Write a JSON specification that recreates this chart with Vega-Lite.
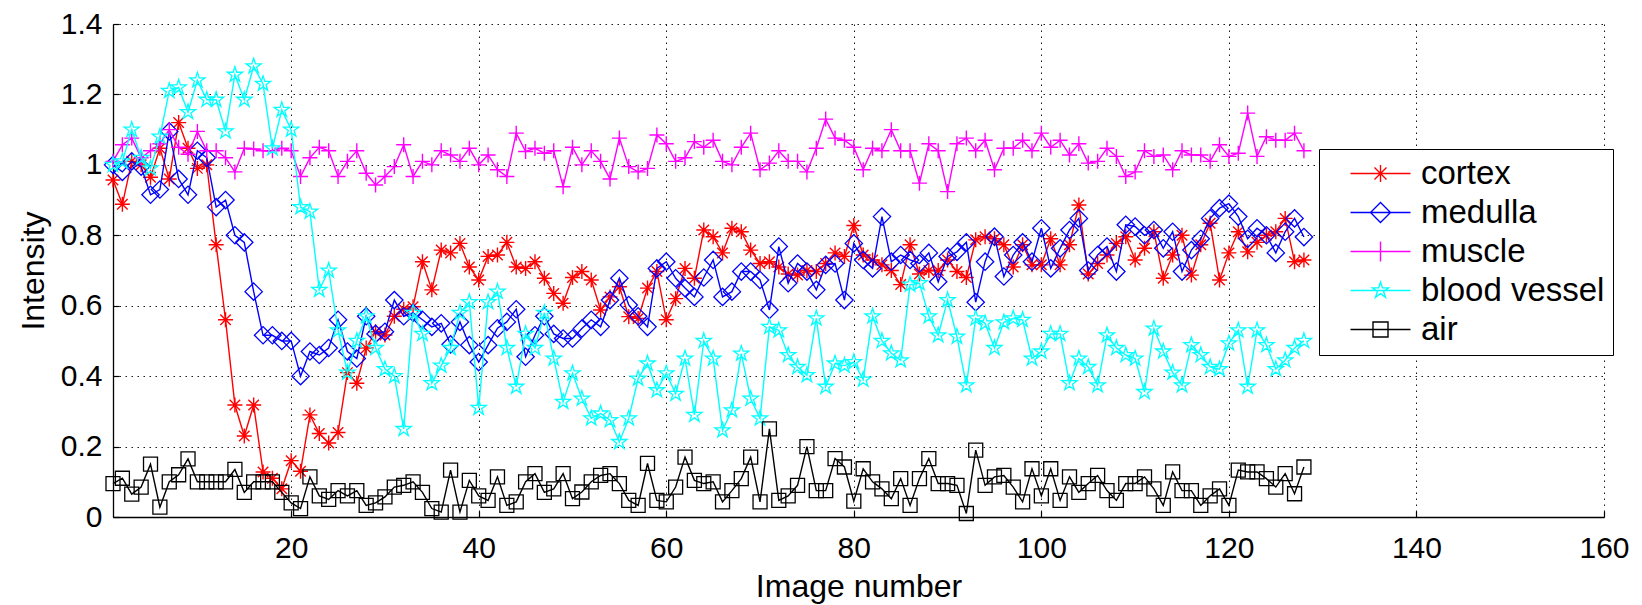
{
"$schema": "https://vega.github.io/schema/vega-lite/v6.json",
"width": 1491, "height": 493,
"autosize": {"type": "none"},
"padding": {"left": 113, "top": 24, "right": 38, "bottom": 88},
"background": "white",
"config": {"view": {"stroke": null}, "font": "Liberation Sans"},
"data": {"values": [
{"n":1,"s":"cortex","v":0.957},{"n":2,"s":"cortex","v":0.888},{"n":3,"s":"cortex","v":1.01},{"n":4,"s":"cortex","v":1.0},{"n":5,"s":"cortex","v":0.965},{"n":6,"s":"cortex","v":1.047},{"n":7,"s":"cortex","v":0.96},{"n":8,"s":"cortex","v":1.12},{"n":9,"s":"cortex","v":1.047},{"n":10,"s":"cortex","v":0.99},
{"n":11,"s":"cortex","v":1.0},{"n":12,"s":"cortex","v":0.773},{"n":13,"s":"cortex","v":0.56},{"n":14,"s":"cortex","v":0.318},{"n":15,"s":"cortex","v":0.23},{"n":16,"s":"cortex","v":0.318},{"n":17,"s":"cortex","v":0.128},{"n":18,"s":"cortex","v":0.11},{"n":19,"s":"cortex","v":0.08},{"n":20,"s":"cortex","v":0.16},
{"n":21,"s":"cortex","v":0.13},{"n":22,"s":"cortex","v":0.29},{"n":23,"s":"cortex","v":0.237},{"n":24,"s":"cortex","v":0.21},{"n":25,"s":"cortex","v":0.24},{"n":26,"s":"cortex","v":0.41},{"n":27,"s":"cortex","v":0.38},{"n":28,"s":"cortex","v":0.48},{"n":29,"s":"cortex","v":0.526},{"n":30,"s":"cortex","v":0.517},
{"n":31,"s":"cortex","v":0.57},{"n":32,"s":"cortex","v":0.59},{"n":33,"s":"cortex","v":0.597},{"n":34,"s":"cortex","v":0.725},{"n":35,"s":"cortex","v":0.645},{"n":36,"s":"cortex","v":0.758},{"n":37,"s":"cortex","v":0.75},{"n":38,"s":"cortex","v":0.777},{"n":39,"s":"cortex","v":0.71},{"n":40,"s":"cortex","v":0.673},
{"n":41,"s":"cortex","v":0.74},{"n":42,"s":"cortex","v":0.744},{"n":43,"s":"cortex","v":0.78},{"n":44,"s":"cortex","v":0.71},{"n":45,"s":"cortex","v":0.706},{"n":46,"s":"cortex","v":0.725},{"n":47,"s":"cortex","v":0.678},{"n":48,"s":"cortex","v":0.635},{"n":49,"s":"cortex","v":0.607},{"n":50,"s":"cortex","v":0.68},
{"n":51,"s":"cortex","v":0.697},{"n":52,"s":"cortex","v":0.673},{"n":53,"s":"cortex","v":0.588},{"n":54,"s":"cortex","v":0.625},{"n":55,"s":"cortex","v":0.654},{"n":56,"s":"cortex","v":0.569},{"n":57,"s":"cortex","v":0.564},{"n":58,"s":"cortex","v":0.65},{"n":59,"s":"cortex","v":0.697},{"n":60,"s":"cortex","v":0.56},
{"n":61,"s":"cortex","v":0.62},{"n":62,"s":"cortex","v":0.706},{"n":63,"s":"cortex","v":0.678},{"n":64,"s":"cortex","v":0.815},{"n":65,"s":"cortex","v":0.796},{"n":66,"s":"cortex","v":0.75},{"n":67,"s":"cortex","v":0.82},{"n":68,"s":"cortex","v":0.81},{"n":69,"s":"cortex","v":0.758},{"n":70,"s":"cortex","v":0.72},
{"n":71,"s":"cortex","v":0.725},{"n":72,"s":"cortex","v":0.71},{"n":73,"s":"cortex","v":0.69},{"n":74,"s":"cortex","v":0.687},{"n":75,"s":"cortex","v":0.70},{"n":76,"s":"cortex","v":0.697},{"n":77,"s":"cortex","v":0.72},{"n":78,"s":"cortex","v":0.75},{"n":79,"s":"cortex","v":0.74},{"n":80,"s":"cortex","v":0.828},
{"n":81,"s":"cortex","v":0.744},{"n":82,"s":"cortex","v":0.73},{"n":83,"s":"cortex","v":0.716},{"n":84,"s":"cortex","v":0.70},{"n":85,"s":"cortex","v":0.66},{"n":86,"s":"cortex","v":0.773},{"n":87,"s":"cortex","v":0.69},{"n":88,"s":"cortex","v":0.70},{"n":89,"s":"cortex","v":0.70},{"n":90,"s":"cortex","v":0.73},
{"n":91,"s":"cortex","v":0.697},{"n":92,"s":"cortex","v":0.68},{"n":93,"s":"cortex","v":0.787},{"n":94,"s":"cortex","v":0.796},{"n":95,"s":"cortex","v":0.79},{"n":96,"s":"cortex","v":0.773},{"n":97,"s":"cortex","v":0.71},{"n":98,"s":"cortex","v":0.773},{"n":99,"s":"cortex","v":0.716},{"n":100,"s":"cortex","v":0.716},
{"n":101,"s":"cortex","v":0.79},{"n":102,"s":"cortex","v":0.716},{"n":103,"s":"cortex","v":0.773},{"n":104,"s":"cortex","v":0.886},{"n":105,"s":"cortex","v":0.69},{"n":106,"s":"cortex","v":0.72},{"n":107,"s":"cortex","v":0.744},{"n":108,"s":"cortex","v":0.777},{"n":109,"s":"cortex","v":0.796},{"n":110,"s":"cortex","v":0.73},
{"n":111,"s":"cortex","v":0.763},{"n":112,"s":"cortex","v":0.81},{"n":113,"s":"cortex","v":0.678},{"n":114,"s":"cortex","v":0.744},{"n":115,"s":"cortex","v":0.80},{"n":116,"s":"cortex","v":0.687},{"n":117,"s":"cortex","v":0.773},{"n":118,"s":"cortex","v":0.834},{"n":119,"s":"cortex","v":0.673},{"n":120,"s":"cortex","v":0.75},
{"n":121,"s":"cortex","v":0.81},{"n":122,"s":"cortex","v":0.753},{"n":123,"s":"cortex","v":0.78},{"n":124,"s":"cortex","v":0.80},{"n":125,"s":"cortex","v":0.81},{"n":126,"s":"cortex","v":0.848},{"n":127,"s":"cortex","v":0.725},{"n":128,"s":"cortex","v":0.73},

{"n":1,"s":"medulla","v":1.0},{"n":2,"s":"medulla","v":0.98},{"n":3,"s":"medulla","v":1.01},{"n":4,"s":"medulla","v":0.995},{"n":5,"s":"medulla","v":0.915},{"n":6,"s":"medulla","v":0.93},{"n":7,"s":"medulla","v":1.095},{"n":8,"s":"medulla","v":0.96},{"n":9,"s":"medulla","v":0.915},{"n":10,"s":"medulla","v":1.04},
{"n":11,"s":"medulla","v":1.02},{"n":12,"s":"medulla","v":0.88},{"n":13,"s":"medulla","v":0.9},{"n":14,"s":"medulla","v":0.80},{"n":15,"s":"medulla","v":0.78},{"n":16,"s":"medulla","v":0.64},{"n":17,"s":"medulla","v":0.516},{"n":18,"s":"medulla","v":0.516},{"n":19,"s":"medulla","v":0.50},{"n":20,"s":"medulla","v":0.50},
{"n":21,"s":"medulla","v":0.40},{"n":22,"s":"medulla","v":0.47},{"n":23,"s":"medulla","v":0.46},{"n":24,"s":"medulla","v":0.48},{"n":25,"s":"medulla","v":0.56},{"n":26,"s":"medulla","v":0.47},{"n":27,"s":"medulla","v":0.45},{"n":28,"s":"medulla","v":0.57},{"n":29,"s":"medulla","v":0.52},{"n":30,"s":"medulla","v":0.526},
{"n":31,"s":"medulla","v":0.616},{"n":32,"s":"medulla","v":0.57},{"n":33,"s":"medulla","v":0.58},{"n":34,"s":"medulla","v":0.56},{"n":35,"s":"medulla","v":0.54},{"n":36,"s":"medulla","v":0.55},{"n":37,"s":"medulla","v":0.49},{"n":38,"s":"medulla","v":0.554},{"n":39,"s":"medulla","v":0.488},{"n":40,"s":"medulla","v":0.44},
{"n":41,"s":"medulla","v":0.488},{"n":42,"s":"medulla","v":0.536},{"n":43,"s":"medulla","v":0.554},{"n":44,"s":"medulla","v":0.59},{"n":45,"s":"medulla","v":0.455},{"n":46,"s":"medulla","v":0.516},{"n":47,"s":"medulla","v":0.57},{"n":48,"s":"medulla","v":0.52},{"n":49,"s":"medulla","v":0.507},{"n":50,"s":"medulla","v":0.507},
{"n":51,"s":"medulla","v":0.535},{"n":52,"s":"medulla","v":0.56},{"n":53,"s":"medulla","v":0.54},{"n":54,"s":"medulla","v":0.616},{"n":55,"s":"medulla","v":0.678},{"n":56,"s":"medulla","v":0.602},{"n":57,"s":"medulla","v":0.57},{"n":58,"s":"medulla","v":0.54},{"n":59,"s":"medulla","v":0.706},{"n":60,"s":"medulla","v":0.725},
{"n":61,"s":"medulla","v":0.678},{"n":62,"s":"medulla","v":0.65},{"n":63,"s":"medulla","v":0.625},{"n":64,"s":"medulla","v":0.68},{"n":65,"s":"medulla","v":0.73},{"n":66,"s":"medulla","v":0.625},{"n":67,"s":"medulla","v":0.64},{"n":68,"s":"medulla","v":0.697},{"n":69,"s":"medulla","v":0.697},{"n":70,"s":"medulla","v":0.673},
{"n":71,"s":"medulla","v":0.588},{"n":72,"s":"medulla","v":0.768},{"n":73,"s":"medulla","v":0.664},{"n":74,"s":"medulla","v":0.72},{"n":75,"s":"medulla","v":0.697},{"n":76,"s":"medulla","v":0.645},{"n":77,"s":"medulla","v":0.716},{"n":78,"s":"medulla","v":0.72},{"n":79,"s":"medulla","v":0.616},{"n":80,"s":"medulla","v":0.777},
{"n":81,"s":"medulla","v":0.73},{"n":82,"s":"medulla","v":0.706},{"n":83,"s":"medulla","v":0.853},{"n":84,"s":"medulla","v":0.725},{"n":85,"s":"medulla","v":0.744},{"n":86,"s":"medulla","v":0.73},{"n":87,"s":"medulla","v":0.72},{"n":88,"s":"medulla","v":0.75},{"n":89,"s":"medulla","v":0.668},{"n":90,"s":"medulla","v":0.74},
{"n":91,"s":"medulla","v":0.753},{"n":92,"s":"medulla","v":0.78},{"n":93,"s":"medulla","v":0.61},{"n":94,"s":"medulla","v":0.725},{"n":95,"s":"medulla","v":0.796},{"n":96,"s":"medulla","v":0.683},{"n":97,"s":"medulla","v":0.744},{"n":98,"s":"medulla","v":0.78},{"n":99,"s":"medulla","v":0.725},{"n":100,"s":"medulla","v":0.82},
{"n":101,"s":"medulla","v":0.706},{"n":102,"s":"medulla","v":0.763},{"n":103,"s":"medulla","v":0.815},{"n":104,"s":"medulla","v":0.848},{"n":105,"s":"medulla","v":0.70},{"n":106,"s":"medulla","v":0.744},{"n":107,"s":"medulla","v":0.768},{"n":108,"s":"medulla","v":0.697},{"n":109,"s":"medulla","v":0.83},{"n":110,"s":"medulla","v":0.825},
{"n":111,"s":"medulla","v":0.80},{"n":112,"s":"medulla","v":0.815},{"n":113,"s":"medulla","v":0.763},{"n":114,"s":"medulla","v":0.81},{"n":115,"s":"medulla","v":0.697},{"n":116,"s":"medulla","v":0.758},{"n":117,"s":"medulla","v":0.79},{"n":118,"s":"medulla","v":0.848},{"n":119,"s":"medulla","v":0.877},{"n":120,"s":"medulla","v":0.89},
{"n":121,"s":"medulla","v":0.853},{"n":122,"s":"medulla","v":0.79},{"n":123,"s":"medulla","v":0.82},{"n":124,"s":"medulla","v":0.80},{"n":125,"s":"medulla","v":0.75},{"n":126,"s":"medulla","v":0.81},{"n":127,"s":"medulla","v":0.848},{"n":128,"s":"medulla","v":0.795},

{"n":1,"s":"muscle","v":1.01},{"n":2,"s":"muscle","v":1.057},{"n":3,"s":"muscle","v":1.076},{"n":4,"s":"muscle","v":1.02},{"n":5,"s":"muscle","v":1.04},{"n":6,"s":"muscle","v":1.06},{"n":7,"s":"muscle","v":1.10},{"n":8,"s":"muscle","v":1.05},{"n":9,"s":"muscle","v":1.03},{"n":10,"s":"muscle","v":1.095},
{"n":11,"s":"muscle","v":1.04},{"n":12,"s":"muscle","v":1.04},{"n":13,"s":"muscle","v":1.02},{"n":14,"s":"muscle","v":0.98},{"n":15,"s":"muscle","v":1.047},{"n":16,"s":"muscle","v":1.045},{"n":17,"s":"muscle","v":1.04},{"n":18,"s":"muscle","v":1.04},{"n":19,"s":"muscle","v":1.047},{"n":20,"s":"muscle","v":1.04},
{"n":21,"s":"muscle","v":0.967},{"n":22,"s":"muscle","v":1.02},{"n":23,"s":"muscle","v":1.05},{"n":24,"s":"muscle","v":1.04},{"n":25,"s":"muscle","v":0.967},{"n":26,"s":"muscle","v":1.01},{"n":27,"s":"muscle","v":1.04},{"n":28,"s":"muscle","v":0.976},{"n":29,"s":"muscle","v":0.943},{"n":30,"s":"muscle","v":0.967},
{"n":31,"s":"muscle","v":0.995},{"n":32,"s":"muscle","v":1.057},{"n":33,"s":"muscle","v":0.967},{"n":34,"s":"muscle","v":1.01},{"n":35,"s":"muscle","v":1.0},{"n":36,"s":"muscle","v":1.04},{"n":37,"s":"muscle","v":1.028},{"n":38,"s":"muscle","v":1.01},{"n":39,"s":"muscle","v":1.047},{"n":40,"s":"muscle","v":1.0},
{"n":41,"s":"muscle","v":1.028},{"n":42,"s":"muscle","v":0.986},{"n":43,"s":"muscle","v":0.967},{"n":44,"s":"muscle","v":1.09},{"n":45,"s":"muscle","v":1.038},{"n":46,"s":"muscle","v":1.047},{"n":47,"s":"muscle","v":1.033},{"n":48,"s":"muscle","v":1.04},{"n":49,"s":"muscle","v":0.938},{"n":50,"s":"muscle","v":1.05},
{"n":51,"s":"muscle","v":1.0},{"n":52,"s":"muscle","v":1.04},{"n":53,"s":"muscle","v":1.01},{"n":54,"s":"muscle","v":0.96},{"n":55,"s":"muscle","v":1.076},{"n":56,"s":"muscle","v":0.995},{"n":57,"s":"muscle","v":0.98},{"n":58,"s":"muscle","v":0.99},{"n":59,"s":"muscle","v":1.085},{"n":60,"s":"muscle","v":1.06},
{"n":61,"s":"muscle","v":1.01},{"n":62,"s":"muscle","v":1.02},{"n":63,"s":"muscle","v":1.066},{"n":64,"s":"muscle","v":1.05},{"n":65,"s":"muscle","v":1.07},{"n":66,"s":"muscle","v":1.01},{"n":67,"s":"muscle","v":1.0},{"n":68,"s":"muscle","v":1.05},{"n":69,"s":"muscle","v":1.09},{"n":70,"s":"muscle","v":0.986},
{"n":71,"s":"muscle","v":1.005},{"n":72,"s":"muscle","v":1.04},{"n":73,"s":"muscle","v":1.01},{"n":74,"s":"muscle","v":1.01},{"n":75,"s":"muscle","v":0.98},{"n":76,"s":"muscle","v":1.047},{"n":77,"s":"muscle","v":1.13},{"n":78,"s":"muscle","v":1.076},{"n":79,"s":"muscle","v":1.07},{"n":80,"s":"muscle","v":1.05},
{"n":81,"s":"muscle","v":0.986},{"n":82,"s":"muscle","v":1.047},{"n":83,"s":"muscle","v":1.04},{"n":84,"s":"muscle","v":1.10},{"n":85,"s":"muscle","v":1.04},{"n":86,"s":"muscle","v":1.04},{"n":87,"s":"muscle","v":0.948},{"n":88,"s":"muscle","v":1.06},{"n":89,"s":"muscle","v":1.04},{"n":90,"s":"muscle","v":0.924},
{"n":91,"s":"muscle","v":1.06},{"n":92,"s":"muscle","v":1.076},{"n":93,"s":"muscle","v":1.04},{"n":94,"s":"muscle","v":1.07},{"n":95,"s":"muscle","v":0.986},{"n":96,"s":"muscle","v":1.047},{"n":97,"s":"muscle","v":1.047},{"n":98,"s":"muscle","v":1.07},{"n":99,"s":"muscle","v":1.04},{"n":100,"s":"muscle","v":1.09},
{"n":101,"s":"muscle","v":1.05},{"n":102,"s":"muscle","v":1.07},{"n":103,"s":"muscle","v":1.028},{"n":104,"s":"muscle","v":1.06},{"n":105,"s":"muscle","v":1.005},{"n":106,"s":"muscle","v":1.01},{"n":107,"s":"muscle","v":1.047},{"n":108,"s":"muscle","v":1.024},{"n":109,"s":"muscle","v":0.967},{"n":110,"s":"muscle","v":0.98},
{"n":111,"s":"muscle","v":1.04},{"n":112,"s":"muscle","v":1.024},{"n":113,"s":"muscle","v":1.028},{"n":114,"s":"muscle","v":0.986},{"n":115,"s":"muscle","v":1.04},{"n":116,"s":"muscle","v":1.028},{"n":117,"s":"muscle","v":1.028},{"n":118,"s":"muscle","v":1.01},{"n":119,"s":"muscle","v":1.057},{"n":120,"s":"muscle","v":1.024},
{"n":121,"s":"muscle","v":1.033},{"n":122,"s":"muscle","v":1.147},{"n":123,"s":"muscle","v":1.024},{"n":124,"s":"muscle","v":1.08},{"n":125,"s":"muscle","v":1.07},{"n":126,"s":"muscle","v":1.07},{"n":127,"s":"muscle","v":1.09},{"n":128,"s":"muscle","v":1.04},

{"n":1,"s":"blood vessel","v":1.0},{"n":2,"s":"blood vessel","v":1.01},{"n":3,"s":"blood vessel","v":1.10},{"n":4,"s":"blood vessel","v":1.02},{"n":5,"s":"blood vessel","v":0.99},{"n":6,"s":"blood vessel","v":1.08},{"n":7,"s":"blood vessel","v":1.21},{"n":8,"s":"blood vessel","v":1.22},{"n":9,"s":"blood vessel","v":1.15},{"n":10,"s":"blood vessel","v":1.24},
{"n":11,"s":"blood vessel","v":1.185},{"n":12,"s":"blood vessel","v":1.185},{"n":13,"s":"blood vessel","v":1.095},{"n":14,"s":"blood vessel","v":1.256},{"n":15,"s":"blood vessel","v":1.185},{"n":16,"s":"blood vessel","v":1.28},{"n":17,"s":"blood vessel","v":1.23},{"n":18,"s":"blood vessel","v":1.047},{"n":19,"s":"blood vessel","v":1.156},{"n":20,"s":"blood vessel","v":1.10},
{"n":21,"s":"blood vessel","v":0.88},{"n":22,"s":"blood vessel","v":0.867},{"n":23,"s":"blood vessel","v":0.645},{"n":24,"s":"blood vessel","v":0.70},{"n":25,"s":"blood vessel","v":0.53},{"n":26,"s":"blood vessel","v":0.41},{"n":27,"s":"blood vessel","v":0.50},{"n":28,"s":"blood vessel","v":0.57},{"n":29,"s":"blood vessel","v":0.48},{"n":30,"s":"blood vessel","v":0.42},
{"n":31,"s":"blood vessel","v":0.40},{"n":32,"s":"blood vessel","v":0.25},{"n":33,"s":"blood vessel","v":0.58},{"n":34,"s":"blood vessel","v":0.52},{"n":35,"s":"blood vessel","v":0.38},{"n":36,"s":"blood vessel","v":0.43},{"n":37,"s":"blood vessel","v":0.48},{"n":38,"s":"blood vessel","v":0.58},{"n":39,"s":"blood vessel","v":0.61},{"n":40,"s":"blood vessel","v":0.31},
{"n":41,"s":"blood vessel","v":0.61},{"n":42,"s":"blood vessel","v":0.64},{"n":43,"s":"blood vessel","v":0.48},{"n":44,"s":"blood vessel","v":0.37},{"n":45,"s":"blood vessel","v":0.52},{"n":46,"s":"blood vessel","v":0.48},{"n":47,"s":"blood vessel","v":0.58},{"n":48,"s":"blood vessel","v":0.45},{"n":49,"s":"blood vessel","v":0.327},{"n":50,"s":"blood vessel","v":0.408},
{"n":51,"s":"blood vessel","v":0.336},{"n":52,"s":"blood vessel","v":0.28},{"n":53,"s":"blood vessel","v":0.294},{"n":54,"s":"blood vessel","v":0.275},{"n":55,"s":"blood vessel","v":0.213},{"n":56,"s":"blood vessel","v":0.28},{"n":57,"s":"blood vessel","v":0.393},{"n":58,"s":"blood vessel","v":0.436},{"n":59,"s":"blood vessel","v":0.36},{"n":60,"s":"blood vessel","v":0.408},
{"n":61,"s":"blood vessel","v":0.35},{"n":62,"s":"blood vessel","v":0.45},{"n":63,"s":"blood vessel","v":0.29},{"n":64,"s":"blood vessel","v":0.50},{"n":65,"s":"blood vessel","v":0.45},{"n":66,"s":"blood vessel","v":0.246},{"n":67,"s":"blood vessel","v":0.303},{"n":68,"s":"blood vessel","v":0.464},{"n":69,"s":"blood vessel","v":0.336},{"n":70,"s":"blood vessel","v":0.28},
{"n":71,"s":"blood vessel","v":0.54},{"n":72,"s":"blood vessel","v":0.53},{"n":73,"s":"blood vessel","v":0.46},{"n":74,"s":"blood vessel","v":0.426},{"n":75,"s":"blood vessel","v":0.403},{"n":76,"s":"blood vessel","v":0.564},{"n":77,"s":"blood vessel","v":0.37},{"n":78,"s":"blood vessel","v":0.436},{"n":79,"s":"blood vessel","v":0.43},{"n":80,"s":"blood vessel","v":0.44},
{"n":81,"s":"blood vessel","v":0.39},{"n":82,"s":"blood vessel","v":0.57},{"n":83,"s":"blood vessel","v":0.50},{"n":84,"s":"blood vessel","v":0.465},{"n":85,"s":"blood vessel","v":0.445},{"n":86,"s":"blood vessel","v":0.66},{"n":87,"s":"blood vessel","v":0.664},{"n":88,"s":"blood vessel","v":0.57},{"n":89,"s":"blood vessel","v":0.516},{"n":90,"s":"blood vessel","v":0.616},
{"n":91,"s":"blood vessel","v":0.512},{"n":92,"s":"blood vessel","v":0.374},{"n":93,"s":"blood vessel","v":0.564},{"n":94,"s":"blood vessel","v":0.55},{"n":95,"s":"blood vessel","v":0.48},{"n":96,"s":"blood vessel","v":0.553},{"n":97,"s":"blood vessel","v":0.564},{"n":98,"s":"blood vessel","v":0.56},{"n":99,"s":"blood vessel","v":0.45},{"n":100,"s":"blood vessel","v":0.47},
{"n":101,"s":"blood vessel","v":0.52},{"n":102,"s":"blood vessel","v":0.52},{"n":103,"s":"blood vessel","v":0.38},{"n":104,"s":"blood vessel","v":0.45},{"n":105,"s":"blood vessel","v":0.426},{"n":106,"s":"blood vessel","v":0.374},{"n":107,"s":"blood vessel","v":0.516},{"n":108,"s":"blood vessel","v":0.48},{"n":109,"s":"blood vessel","v":0.46},{"n":110,"s":"blood vessel","v":0.45},
{"n":111,"s":"blood vessel","v":0.355},{"n":112,"s":"blood vessel","v":0.535},{"n":113,"s":"blood vessel","v":0.47},{"n":114,"s":"blood vessel","v":0.41},{"n":115,"s":"blood vessel","v":0.374},{"n":116,"s":"blood vessel","v":0.488},{"n":117,"s":"blood vessel","v":0.46},{"n":118,"s":"blood vessel","v":0.426},{"n":119,"s":"blood vessel","v":0.42},{"n":120,"s":"blood vessel","v":0.493},
{"n":121,"s":"blood vessel","v":0.53},{"n":122,"s":"blood vessel","v":0.37},{"n":123,"s":"blood vessel","v":0.53},{"n":124,"s":"blood vessel","v":0.488},{"n":125,"s":"blood vessel","v":0.42},{"n":126,"s":"blood vessel","v":0.445},{"n":127,"s":"blood vessel","v":0.48},{"n":128,"s":"blood vessel","v":0.50},

{"n":1,"s":"air","v":0.095},{"n":2,"s":"air","v":0.11},{"n":3,"s":"air","v":0.065},{"n":4,"s":"air","v":0.085},{"n":5,"s":"air","v":0.15},{"n":6,"s":"air","v":0.028},{"n":7,"s":"air","v":0.10},{"n":8,"s":"air","v":0.12},{"n":9,"s":"air","v":0.165},{"n":10,"s":"air","v":0.10},
{"n":11,"s":"air","v":0.10},{"n":12,"s":"air","v":0.10},{"n":13,"s":"air","v":0.10},{"n":14,"s":"air","v":0.135},{"n":15,"s":"air","v":0.07},{"n":16,"s":"air","v":0.10},{"n":17,"s":"air","v":0.10},{"n":18,"s":"air","v":0.10},{"n":19,"s":"air","v":0.07},{"n":20,"s":"air","v":0.04},
{"n":21,"s":"air","v":0.024},{"n":22,"s":"air","v":0.114},{"n":23,"s":"air","v":0.06},{"n":24,"s":"air","v":0.05},{"n":25,"s":"air","v":0.075},{"n":26,"s":"air","v":0.06},{"n":27,"s":"air","v":0.075},{"n":28,"s":"air","v":0.033},{"n":29,"s":"air","v":0.04},{"n":30,"s":"air","v":0.057},
{"n":31,"s":"air","v":0.085},{"n":32,"s":"air","v":0.09},{"n":33,"s":"air","v":0.10},{"n":34,"s":"air","v":0.07},{"n":35,"s":"air","v":0.024},{"n":36,"s":"air","v":0.014},{"n":37,"s":"air","v":0.133},{"n":38,"s":"air","v":0.014},{"n":39,"s":"air","v":0.104},{"n":40,"s":"air","v":0.06},
{"n":41,"s":"air","v":0.047},{"n":42,"s":"air","v":0.114},{"n":43,"s":"air","v":0.033},{"n":44,"s":"air","v":0.043},{"n":45,"s":"air","v":0.10},{"n":46,"s":"air","v":0.123},{"n":47,"s":"air","v":0.07},{"n":48,"s":"air","v":0.08},{"n":49,"s":"air","v":0.123},{"n":50,"s":"air","v":0.052},
{"n":51,"s":"air","v":0.071},{"n":52,"s":"air","v":0.10},{"n":53,"s":"air","v":0.118},{"n":54,"s":"air","v":0.123},{"n":55,"s":"air","v":0.095},{"n":56,"s":"air","v":0.047},{"n":57,"s":"air","v":0.033},{"n":58,"s":"air","v":0.152},{"n":59,"s":"air","v":0.047},{"n":60,"s":"air","v":0.043},
{"n":61,"s":"air","v":0.085},{"n":62,"s":"air","v":0.17},{"n":63,"s":"air","v":0.104},{"n":64,"s":"air","v":0.095},{"n":65,"s":"air","v":0.10},{"n":66,"s":"air","v":0.043},{"n":67,"s":"air","v":0.075},{"n":68,"s":"air","v":0.109},{"n":69,"s":"air","v":0.17},{"n":70,"s":"air","v":0.043},
{"n":71,"s":"air","v":0.25},{"n":72,"s":"air","v":0.047},{"n":73,"s":"air","v":0.06},{"n":74,"s":"air","v":0.09},{"n":75,"s":"air","v":0.20},{"n":76,"s":"air","v":0.075},{"n":77,"s":"air","v":0.075},{"n":78,"s":"air","v":0.166},{"n":79,"s":"air","v":0.142},{"n":80,"s":"air","v":0.045},
{"n":81,"s":"air","v":0.137},{"n":82,"s":"air","v":0.10},{"n":83,"s":"air","v":0.08},{"n":84,"s":"air","v":0.052},{"n":85,"s":"air","v":0.109},{"n":86,"s":"air","v":0.033},{"n":87,"s":"air","v":0.109},{"n":88,"s":"air","v":0.166},{"n":89,"s":"air","v":0.095},{"n":90,"s":"air","v":0.095},
{"n":91,"s":"air","v":0.09},{"n":92,"s":"air","v":0.01},{"n":93,"s":"air","v":0.19},{"n":94,"s":"air","v":0.09},{"n":95,"s":"air","v":0.114},{"n":96,"s":"air","v":0.118},{"n":97,"s":"air","v":0.085},{"n":98,"s":"air","v":0.043},{"n":99,"s":"air","v":0.137},{"n":100,"s":"air","v":0.06},
{"n":101,"s":"air","v":0.137},{"n":102,"s":"air","v":0.047},{"n":103,"s":"air","v":0.114},{"n":104,"s":"air","v":0.07},{"n":105,"s":"air","v":0.095},{"n":106,"s":"air","v":0.118},{"n":107,"s":"air","v":0.075},{"n":108,"s":"air","v":0.047},{"n":109,"s":"air","v":0.095},{"n":110,"s":"air","v":0.095},
{"n":111,"s":"air","v":0.114},{"n":112,"s":"air","v":0.08},{"n":113,"s":"air","v":0.033},{"n":114,"s":"air","v":0.128},{"n":115,"s":"air","v":0.075},{"n":116,"s":"air","v":0.075},{"n":117,"s":"air","v":0.033},{"n":118,"s":"air","v":0.06},{"n":119,"s":"air","v":0.08},{"n":120,"s":"air","v":0.033},
{"n":121,"s":"air","v":0.133},{"n":122,"s":"air","v":0.128},{"n":123,"s":"air","v":0.128},{"n":124,"s":"air","v":0.109},{"n":125,"s":"air","v":0.085},{"n":126,"s":"air","v":0.123},{"n":127,"s":"air","v":0.066},{"n":128,"s":"air","v":0.142}
]},
"encoding": {
  "x": {"field": "n", "type": "quantitative",
    "scale": {"domain": [1, 160], "nice": false, "zero": false},
    "axis": {"values": [20, 40, 60, 80, 100, 120, 140, 160], "format": "d", "title": "Image number",
      "grid": true, "gridColor": "#000000", "gridDash": [1.5, 4.5], "gridWidth": 1, "gridOpacity": 0.9,
      "domainColor": "#000000", "domainWidth": 1.3, "tickColor": "#000000", "tickSize": -6, "tickWidth": 1.2,
      "labelFont": "Liberation Sans", "labelFontSize": 30, "labelColor": "#000000", "labelPadding": 22, "labelFlush": false,
      "titleFont": "Liberation Sans", "titleFontSize": 32, "titleFontWeight": "normal", "titleColor": "#000000", "titlePadding": 8}},
  "y": {"field": "v", "type": "quantitative",
    "scale": {"domain": [0, 1.4], "nice": false},
    "axis": {"values": [0, 0.2, 0.4, 0.6, 0.8, 1, 1.2, 1.4], "format": "~g", "title": "Intensity",
      "grid": true, "gridColor": "#000000", "gridDash": [1.5, 4.5], "gridWidth": 1, "gridOpacity": 0.9,
      "domainColor": "#000000", "domainWidth": 1.3, "tickColor": "#000000", "tickSize": -6, "tickWidth": 1.2,
      "labelFont": "Liberation Sans", "labelFontSize": 30, "labelColor": "#000000", "labelPadding": 17, "labelFlush": false,
      "titleFont": "Liberation Sans", "titleFontSize": 32, "titleFontWeight": "normal", "titleColor": "#000000", "titlePadding": 10}},
  "color": {"field": "s", "type": "nominal",
    "scale": {"domain": ["cortex", "medulla", "muscle", "blood vessel", "air"], "range": ["#ff0000", "#0000ff", "#ff00ff", "#00ffff", "#000000"]},
    "legend": null}
},
"layer": [
  {"transform": [{"filter": "datum.n > 1000"}],
   "mark": {"type": "point", "filled": false, "strokeWidth": 1.4},
   "encoding": {
     "color": {"field": "s", "type": "nominal",
       "scale": {"domain": ["cortex", "medulla", "muscle", "blood vessel", "air"], "range": ["#ff0000", "#0000ff", "#ff00ff", "#00ffff", "#000000"]},
       "legend": {"title": null, "orient": "none", "legendX": 1206, "legendY": 125, "direction": "vertical",
         "strokeColor": "#000000", "fillColor": "#ffffff", "padding": 8, "symbolSize": 400, "symbolStrokeWidth": 1.4,
         "symbolOffset": 37, "labelOffset": 24, "rowPadding": 5, "labelLimit": 600, "labelExpr": "datum.label + '  '", "labelFont": "Liberation Sans", "labelFontSize": 33, "labelColor": "#000000", "symbolOpacity": 1}},
     "shape": {"field": "s", "type": "nominal",
       "scale": {"domain": ["cortex", "medulla", "muscle", "blood vessel", "air"],
         "range": [
           "M-3,0H3M0,-0.85V0.85M-0.6,-0.6L0.6,0.6M-0.6,0.6L0.6,-0.6",
           "M-3,0H3M-1,0L0,-1L1,0L0,1Z",
           "M-3,0H3M0,-1V1",
           "M-3,0H3M0,-0.85L0.19,-0.26L0.81,-0.26L0.31,0.1L0.5,0.69L0,0.32L-0.5,0.69L-0.31,0.1L-0.81,-0.26L-0.19,-0.26Z",
           "M-3,0H3M-0.75,-0.75H0.75V0.75H-0.75Z"]},
       "legend": {"title": null, "orient": "none", "legendX": 1206, "legendY": 125, "direction": "vertical",
         "strokeColor": "#000000", "fillColor": "#ffffff", "padding": 8, "symbolSize": 400, "symbolStrokeWidth": 1.4,
         "symbolOffset": 37, "labelOffset": 24, "rowPadding": 5, "labelLimit": 600, "labelExpr": "datum.label + '  '", "labelFont": "Liberation Sans", "labelFontSize": 33, "labelColor": "#000000", "symbolOpacity": 1}}
   }},
  {"transform": [{"filter": "datum.s === 'cortex'"}],
   "mark": {"type": "line", "strokeWidth": 1.4, "point": {"shape": "M-1,0H1M0,-1V1M-0.7,-0.7L0.7,0.7M-0.7,0.7L0.7,-0.7", "size": 225, "filled": false, "strokeWidth": 1.4}}},
  {"transform": [{"filter": "datum.s === 'medulla'"}],
   "mark": {"type": "line", "strokeWidth": 1.4, "point": {"shape": "diamond", "size": 300, "filled": false, "strokeWidth": 1.3}}},
  {"transform": [{"filter": "datum.s === 'muscle'"}],
   "mark": {"type": "line", "strokeWidth": 1.4, "point": {"shape": "M-1,0H1M0,-1V1", "size": 225, "filled": false, "strokeWidth": 1.4}}},
  {"transform": [{"filter": "datum.s === 'blood vessel'"}],
   "mark": {"type": "line", "strokeWidth": 1.4, "point": {"shape": "M0,-1L0.225,-0.31L0.951,-0.309L0.363,0.118L0.588,0.809L0,0.38L-0.588,0.809L-0.363,0.118L-0.951,-0.309L-0.225,-0.31Z", "size": 256, "filled": false, "strokeWidth": 1.3}}},
  {"transform": [{"filter": "datum.s === 'air'"}],
   "mark": {"type": "line", "strokeWidth": 1.4, "point": {"shape": "square", "size": 196, "filled": false, "strokeWidth": 1.3}}}
]
}
